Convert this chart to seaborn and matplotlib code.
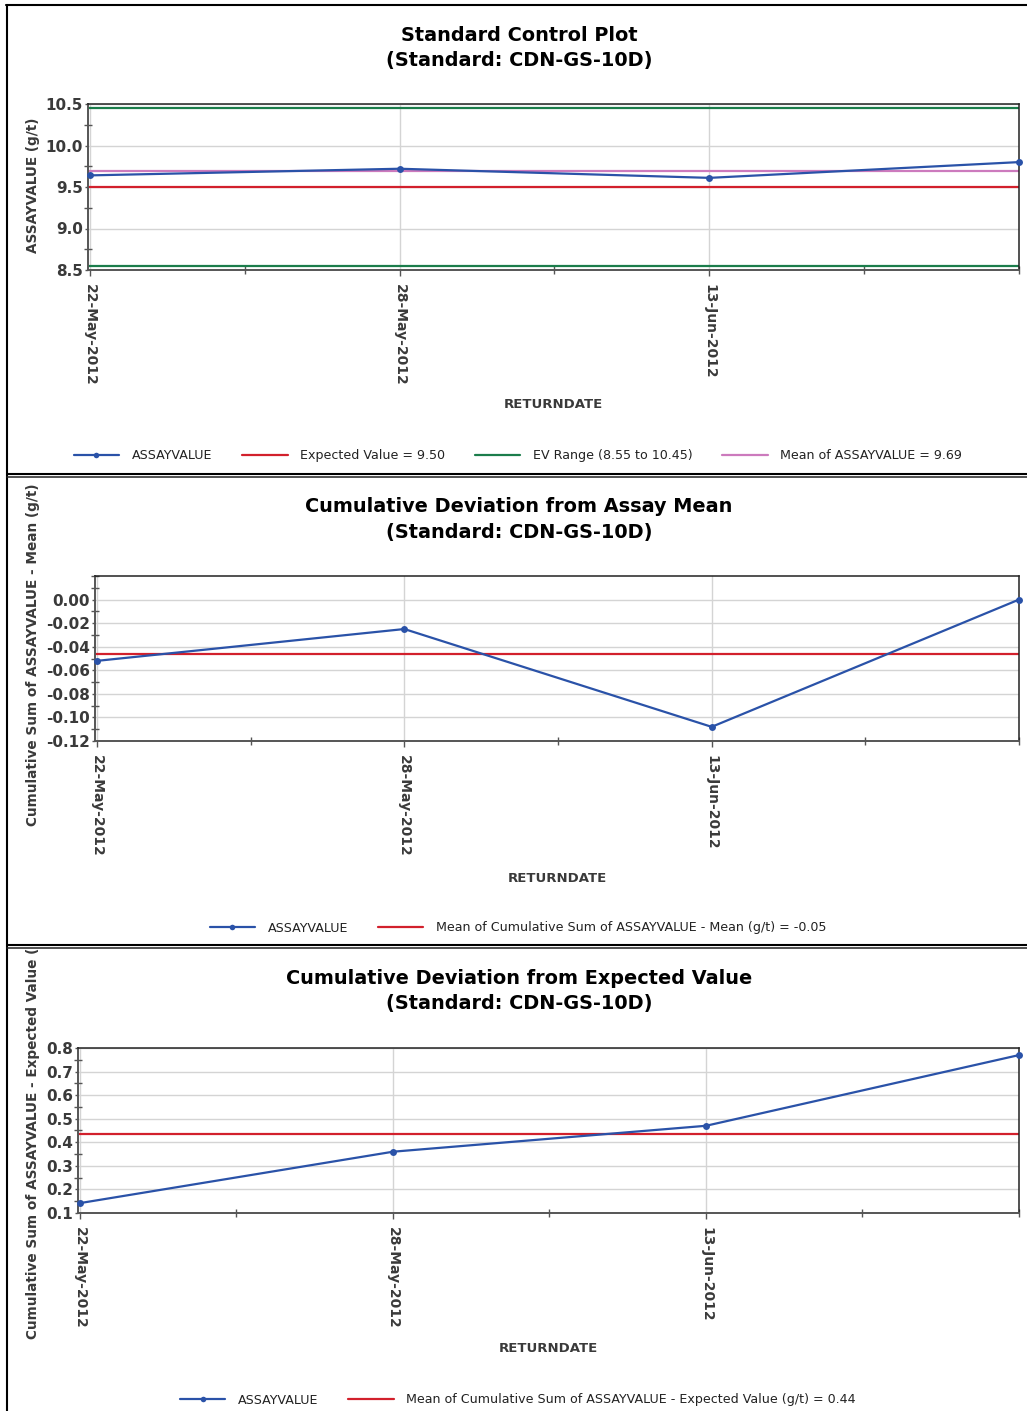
import matplotlib
matplotlib.use("Agg")
import matplotlib.pyplot as plt
import pandas as pd
import seaborn as sns
from matplotlib.lines import Line2D
from matplotlib.ticker import FixedLocator, MultipleLocator, FormatStrFormatter
from matplotlib.transforms import Bbox, TransformedBbox

# ---- data -------------------------------------------------------------
return_dates = ["22-May-2012", "28-May-2012", "13-Jun-2012"]
assay_values = [9.64, 9.72, 9.61, 9.80]
cum_dev_mean = [-0.052, -0.025, -0.108, 0.0]
cum_dev_expected = [0.142, 0.36, 0.47, 0.77]
expected_value = 9.50
ev_low, ev_high = 8.55, 10.45
standard_name = "CDN-GS-10D"

# ---- style ------------------------------------------------------------
W, H = 1027, 1411
sns.set_theme(style="white")
plt.rcParams["font.family"] = ["DejaVu Sans"]
plt.rcParams["axes.unicode_minus"] = False

BLUE = "#2a52a8"
RED = "#d2202c"
GREEN = "#1b7d4b"
PINK = "#cc7abd"
TEXT = "#3a3a3a"
GRID = "#d4d4d4"

fig = plt.figure(figsize=(W / 100, H / 100), dpi=100)


def fx(px):
    return px / W


def fy(py):
    return 1 - py / H


def panel(values, box, ylim, yticks, minor, fmt, title, title_y, ylabel,
          ylabel_y, xlabel_y, legend_y, clip, refs):
    left, right, top, bottom = box
    ax = fig.add_axes([fx(left), fy(bottom), (right - left) / W, (bottom - top) / H])
    df = pd.DataFrame({"idx": range(len(values)), "value": values})
    sns.lineplot(data=df, x="idx", y="value", ax=ax, color=BLUE, marker="o",
                 markersize=5, markeredgewidth=0, linewidth=1.6,
                 label="ASSAYVALUE", clip_on=False, zorder=3)
    for yv, col, lab in refs:
        ax.axhline(yv, color=col, linewidth=1.6, label=lab, zorder=2.5)
    if ax.get_legend() is not None:
        ax.get_legend().remove()

    n = len(values) - 1
    ax.set_xlim(-2 / ((right - left) / n), n)
    ax.set_ylim(*ylim)
    ax.xaxis.set_major_locator(FixedLocator(range(len(return_dates))))
    ax.xaxis.set_minor_locator(FixedLocator([0.5, 1.5, 2.5, 3.0]))
    ax.set_xticklabels(return_dates, rotation=-90, fontsize=10,
                       fontweight="bold", color=TEXT)
    ax.yaxis.set_major_locator(FixedLocator(yticks))
    ax.yaxis.set_minor_locator(MultipleLocator(minor))
    ax.yaxis.set_major_formatter(FormatStrFormatter(fmt))
    for lab in ax.get_yticklabels():
        lab.set_fontweight("bold")
    ax.tick_params(axis="y", which="major", labelsize=11, labelcolor=TEXT,
                   direction="out", length=2, width=1, color="#555", pad=1.5, left=True)
    ax.tick_params(axis="y", which="minor", direction="inout", length=6,
                   width=1, color="#555", left=True)
    ax.tick_params(axis="x", which="major", direction="out", length=4,
                   width=1, color="#555", pad=6, bottom=True)
    ax.tick_params(axis="x", which="minor", direction="inout", length=6,
                   width=1, color="#555", bottom=True)
    ax.grid(True, which="major", color=GRID, linewidth=1)
    for s in ("left", "bottom"):
        ax.spines[s].set_color("#555")
        ax.spines[s].set_linewidth(1.4)
    for s in ("top", "right"):
        ax.spines[s].set_color("#222")
        ax.spines[s].set_linewidth(1.1)
    ax.set_xlabel("")
    ax.set_ylabel("")

    fig.text(fx(519), fy(title_y), title, ha="center", va="center",
             fontsize=13.9, fontweight="bold", color="black", linespacing=1.45)
    fig.text(fx((left + right) / 2), fy(xlabel_y), "RETURNDATE", ha="center",
             va="center", fontsize=9.5, fontweight="bold", color=TEXT)
    yl = fig.text(fx(33), fy(ylabel_y), ylabel, rotation=90, ha="center",
                  va="center", fontsize=9.8, fontweight="bold", color=TEXT)
    yl.set_clip_box(TransformedBbox(Bbox([[0, fy(clip[1])], [1, fy(clip[0])]]),
                                    fig.transFigure))
    yl.set_clip_on(True)

    handles, labels = ax.get_legend_handles_labels()
    fig.legend(handles, labels, loc="center", bbox_to_anchor=(fx(518), fy(legend_y)),
               ncol=len(handles), frameon=False, fontsize=9.1, handlelength=3.6,
               handletextpad=1.0, columnspacing=2.35, labelcolor="#222",
               markerscale=0.8)
    return ax


assay_mean = sum(assay_values) / len(assay_values)
mean_cdm = sum(cum_dev_mean) / len(cum_dev_mean)
mean_cde = sum(cum_dev_expected) / len(cum_dev_expected)

ax1 = panel(assay_values, (88, 1019, 104, 270), (8.5, 10.5),
            [8.5, 9.0, 9.5, 10.0, 10.5], 0.25, "%.1f",
            f"Standard Control Plot\n(Standard: {standard_name})", 48,
            "ASSAYVALUE (g/t)", 185, 405, 456, (0, 473),
            [(expected_value, RED, f"Expected Value = {expected_value:.2f}"),
             (ev_low, GREEN, f"EV Range ({ev_low:.2f} to {ev_high:.2f})"),
             (ev_high, GREEN, None),
             (assay_mean, PINK, f"Mean of ASSAYVALUE = {assay_mean:.2f}")])

ax2 = panel(cum_dev_mean, (95, 1019, 576, 741), (-0.12, 0.02),
            [-0.12, -0.10, -0.08, -0.06, -0.04, -0.02, 0.0], 0.01, "%.2f",
            f"Cumulative Deviation from Assay Mean\n(Standard: {standard_name})", 519.5,
            "Cumulative Sum of ASSAYVALUE - Mean (g/t)", 655, 878, 928, (477, 944),
            [(mean_cdm, RED,
              f"Mean of Cumulative Sum of ASSAYVALUE - Mean (g/t) = {mean_cdm:.2f}")])

ax3 = panel(cum_dev_expected, (78, 1019, 1048, 1213), (0.1, 0.8),
            [0.1, 0.2, 0.3, 0.4, 0.5, 0.6, 0.7, 0.8], 0.05, "%.1f",
            f"Cumulative Deviation from Expected Value\n(Standard: {standard_name})", 991,
            "Cumulative Sum of ASSAYVALUE - Expected Value (g/t)", 1130, 1349, 1400,
            (948, 1411),
            [(mean_cde, RED,
              "Mean of Cumulative Sum of ASSAYVALUE - Expected Value (g/t) = "
              f"{mean_cde:.2f}")])

# outer frame and panel separators
fig.add_artist(Line2D([fx(6), fx(W)], [fy(5)] * 2, color="black", linewidth=1.5))
fig.add_artist(Line2D([fx(7), fx(7)], [fy(5), fy(H)], color="black", linewidth=1.5))
for ysep in (474, 944.5):
    fig.add_artist(Line2D([fx(7), fx(W)], [fy(ysep)] * 2, color="black", linewidth=1.5))
    fig.add_artist(Line2D([fx(7), fx(W)], [fy(ysep + 3)] * 2, color="#222", linewidth=1.1))

fig.savefig("out.png", dpi=100)
